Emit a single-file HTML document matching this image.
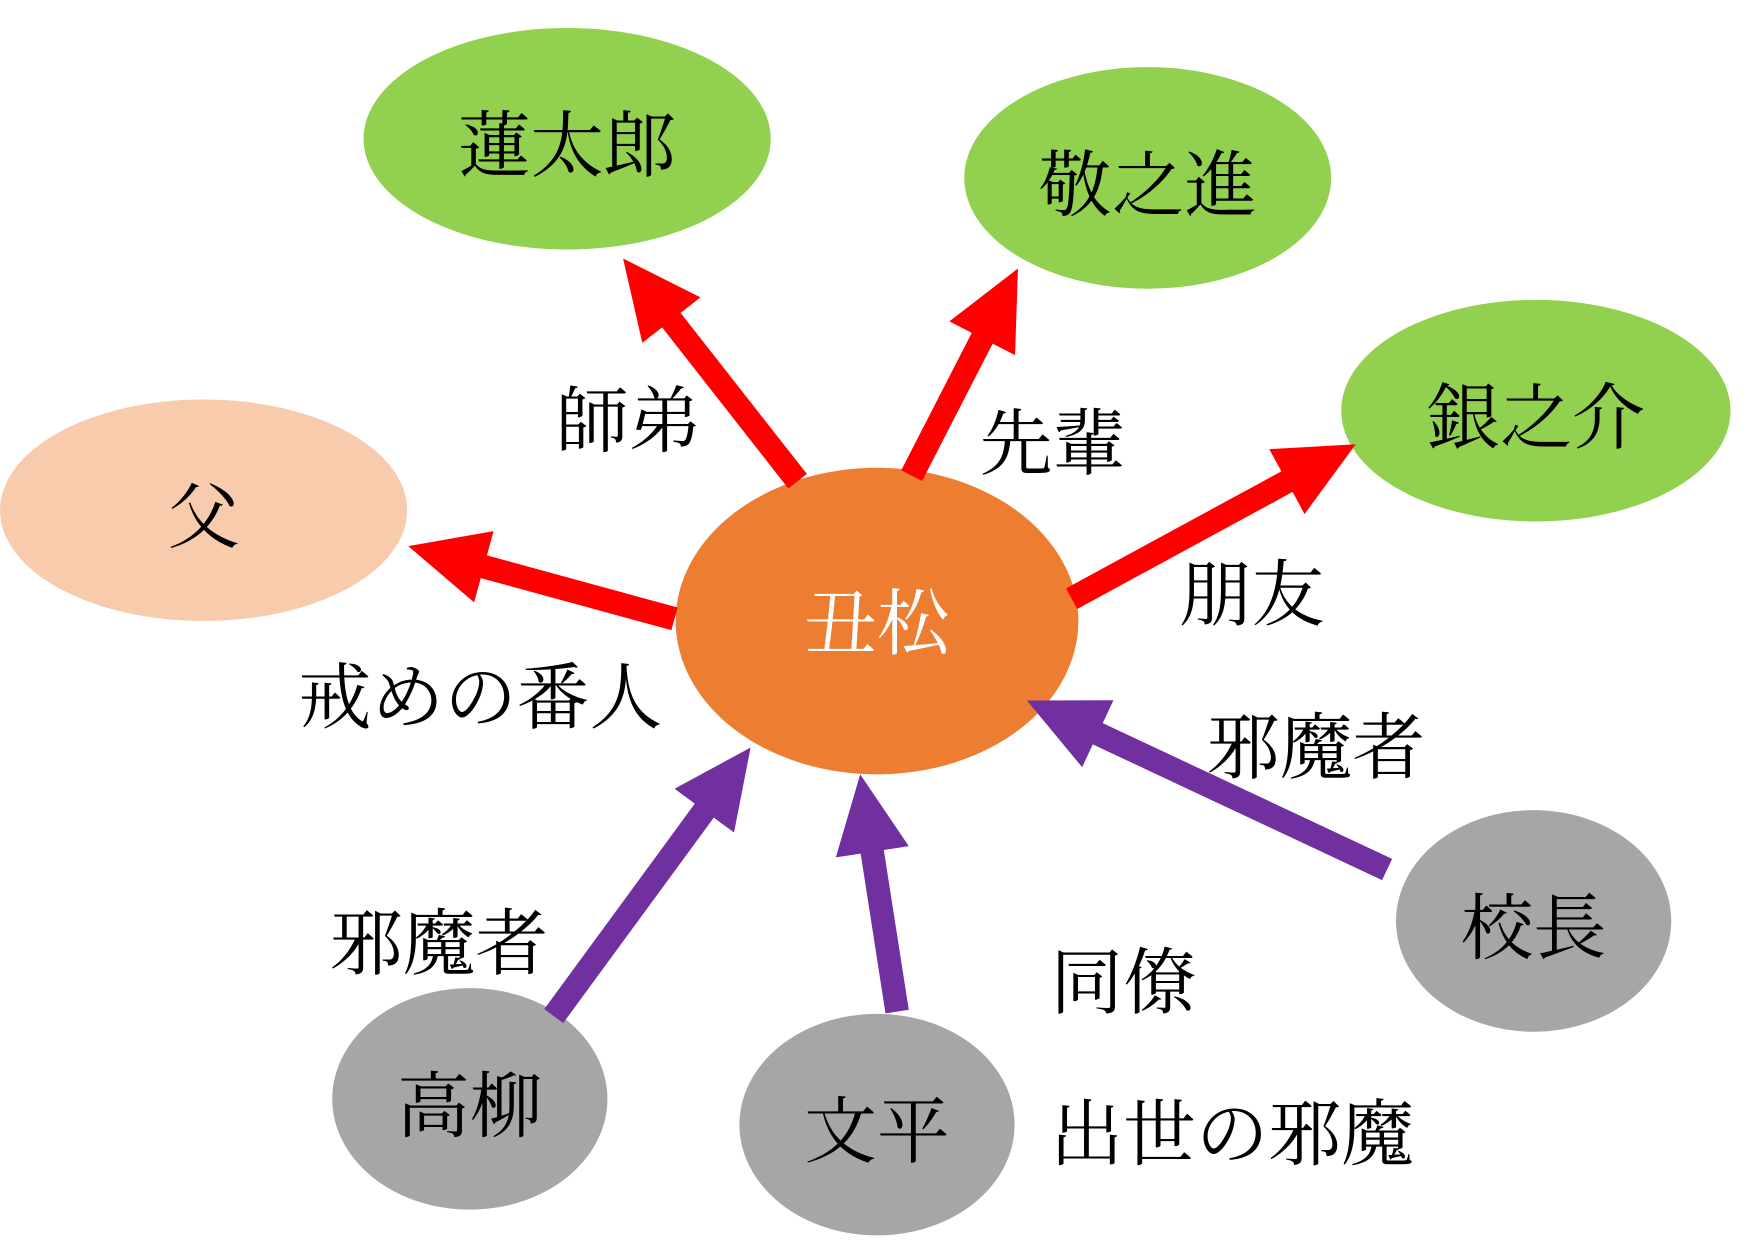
<!DOCTYPE html>
<html><head><meta charset="utf-8"><style>
html,body{margin:0;padding:0;background:#fff;}
svg{display:block}
text{font-family:"Liberation Serif","Noto Serif CJK JP","Noto Serif CJK SC",serif;}
</style></head><body>
<svg id="s" width="1754" height="1241" viewBox="0 0 1568 1109" preserveAspectRatio="none" xmlns="http://www.w3.org/2000/svg">
<rect width="1568" height="1109" fill="#fff"/>
<ellipse cx="507" cy="124" rx="182" ry="99" fill="#92d050"/>
<ellipse cx="1026" cy="159" rx="164" ry="99" fill="#92d050"/>
<ellipse cx="1373" cy="367" rx="174" ry="99" fill="#92d050"/>
<ellipse cx="182" cy="456" rx="182" ry="99" fill="#f8cbad"/>
<ellipse cx="784" cy="555" rx="180" ry="137" fill="#ed7d31"/>
<ellipse cx="1371" cy="823" rx="123" ry="99" fill="#a6a6a6"/>
<ellipse cx="420" cy="982" rx="123" ry="99" fill="#a6a6a6"/>
<ellipse cx="784" cy="1005" rx="123" ry="99" fill="#a6a6a6"/>
<g id="arrows"></g>
<g font-size="65" text-anchor="middle" fill="#000">
<text x="507" y="153">蓮太郎</text>
<text x="1026" y="188">敬之進</text>
<text x="1373" y="396">銀之介</text>
<text x="182" y="485">父</text>
<text x="784" y="580" fill="#fff">丑松</text>
<text x="1371" y="852">校長</text>
<text x="420" y="1011">高柳</text>
<text x="784" y="1034">文平</text>
</g>
<g font-size="65" fill="#000">
<text x="497" y="399">師弟</text>
<text x="876" y="419">先輩</text>
<text x="1054" y="554">朋友</text>
<text x="267" y="646">戒めの番人</text>
<text x="1079" y="691">邪魔者</text>
<text x="295" y="866">邪魔者</text>
<text x="939" y="901">同僚</text>
<text x="939" y="1036">出世の邪魔</text>
</g>
</svg>
<script>
var g=document.getElementById('arrows');
function arrow(x1,y1,x2,y2,c){
 var dx=x2-x1,dy=y2-y1,L=Math.hypot(dx,dy),ux=dx/L,uy=dy/L,px=-uy,py=ux;
 var w=10.5,hw=33,hl=70;
 var bx=x2-ux*hl,by=y2-uy*hl;
 var pts=[[x1+px*w,y1+py*w],[bx+px*w,by+py*w],[bx+px*hw,by+py*hw],[x2,y2],[bx-px*hw,by-py*hw],[bx-px*w,by-py*w],[x1-px*w,y1-py*w]];
 var p=document.createElementNS('http://www.w3.org/2000/svg','polygon');
 p.setAttribute('points',pts.map(function(a){return a[0].toFixed(1)+','+a[1].toFixed(1)}).join(' '));
 p.setAttribute('fill',c);g.appendChild(p);
}
var R='#ff0000',P='#7030a0';
arrow(713,430,557,231,R);
arrow(815,425,910,240,R);
arrow(958,535,1212,397,R);
arrow(603,553,365,488,R);
arrow(495,908,671,668,P);
arrow(802,904,769,692,P);
arrow(1240,777,918,626,P);
</script>
</body></html>
